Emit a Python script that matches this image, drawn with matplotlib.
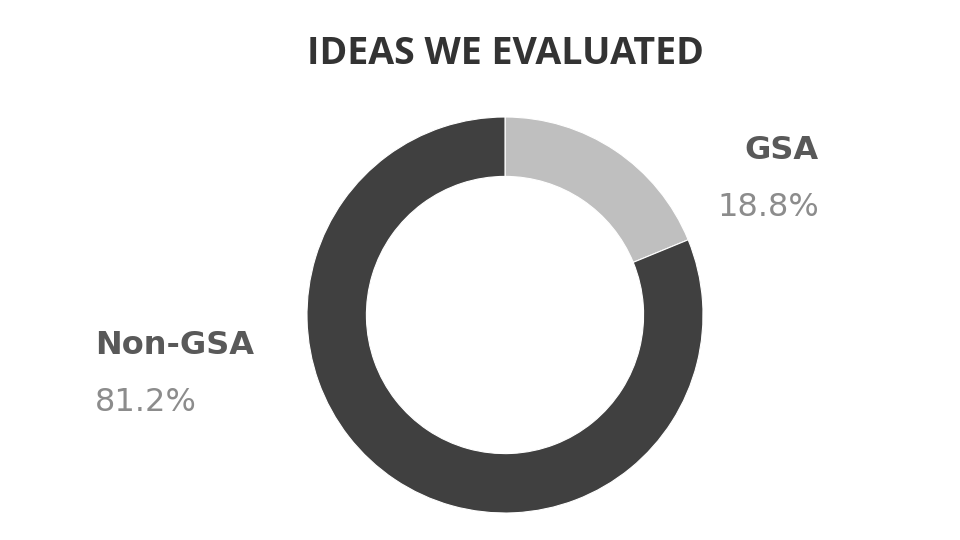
import matplotlib
matplotlib.use("Agg")
import matplotlib.pyplot as plt

title = "IDEAS WE EVALUATED"
labels = ["GSA", "Non-GSA"]
shares = [18.8, 81.2]
colors = ["#bfbfbf", "#404040"]

W, H = 960, 540
fig = plt.figure(figsize=(W/100, H/100), dpi=100)
# square axes centred on the donut
ax = fig.add_axes([307/W, 27/H, 396/W, 396/H])
ax.pie(shares, colors=colors, startangle=90, counterclock=False, radius=1.0,
       wedgeprops=dict(width=0.30, edgecolor="white", linewidth=0.8))
ax.set_xlim(-1, 1)
ax.set_ylim(-1, 1)
ax.set_aspect("equal")
ax.axis("off")

fig.text(505/W, 1 - 64/H, title, ha="center", va="baseline",
         fontsize=27, fontweight="bold", color="#333333", family="Open Sans")

# labels, positions in figure pixels measured from the top
fig.text(819/W, 1 - 159/H, labels[0], ha="right", va="baseline",
         fontsize=23, fontweight="bold", color="#595959", family="DejaVu Sans")
fig.text(819/W, 1 - 216/H, "%.1f%%" % shares[0], ha="right", va="baseline",
         fontsize=23, color="#8c8c8c", family="DejaVu Sans")
fig.text(95/W, 1 - 354/H, labels[1], ha="left", va="baseline",
         fontsize=23, fontweight="bold", color="#595959", family="DejaVu Sans")
fig.text(95/W, 1 - 411/H, "%.1f%%" % shares[1], ha="left", va="baseline",
         fontsize=23, color="#8c8c8c", family="DejaVu Sans")

fig.savefig("out.png", dpi=100)
